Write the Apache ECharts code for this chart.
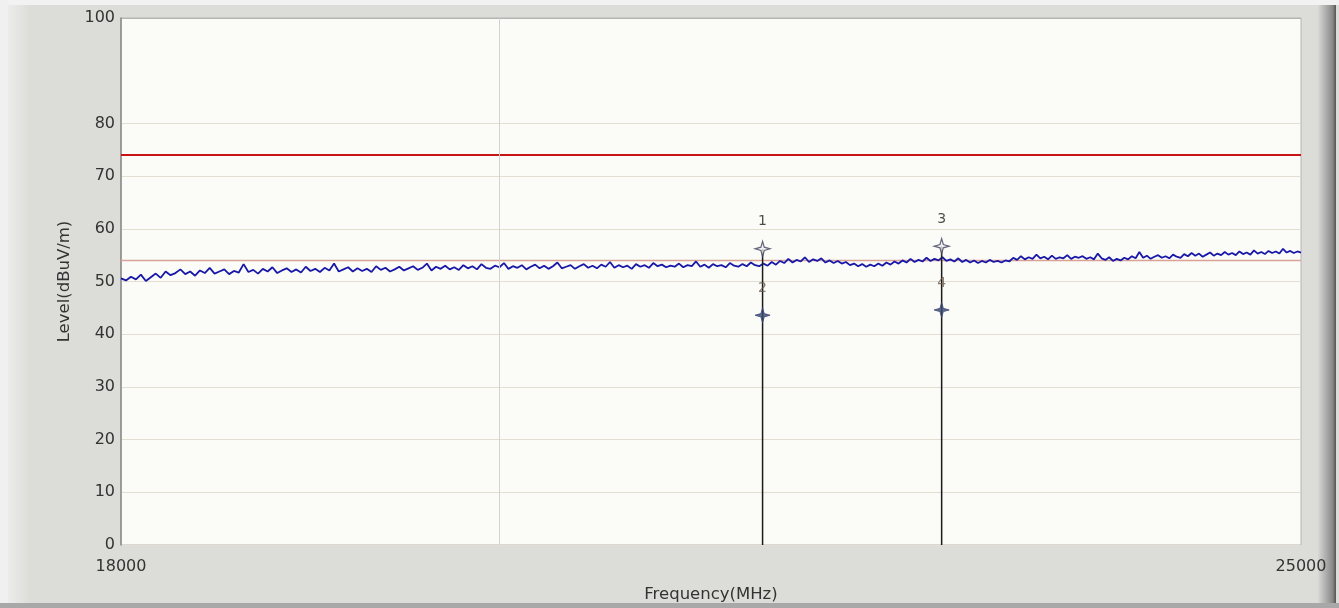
<!DOCTYPE html>
<html><head><meta charset="utf-8">
<script src="https://cdn.jsdelivr.net/npm/echarts@6/dist/echarts.min.js"></script>
<style>html,body{margin:0;padding:0;background:#dcdcd8}#c{width:1339px;height:608px}</style>
</head><body><div id="c"></div>
<script>
// Sweep definition
const freqStart = 18000;
const freqStop = 25000;
const freqStep = 25;
// Measured trace levels (dBuV/m), one per sweep point
const levels = [
50.6,50.2,50.9,50.4,51.3,50.1,50.8,51.5,50.7,51.9,51.2,51.6,52.3,51.4,51.9,51.1,52.1,51.6,52.6,51.5,51.9,
52.3,51.4,52.0,51.7,53.3,51.8,52.2,51.5,52.4,51.9,52.7,51.6,52.1,52.5,51.8,52.3,51.7,52.8,52.0,52.4,
51.8,52.6,52.1,53.4,51.9,52.3,52.7,51.9,52.5,52.0,52.4,51.8,52.9,52.2,52.6,51.9,52.3,52.8,52.1,52.5,
52.9,52.2,52.6,53.4,52.1,52.8,52.4,53.0,52.3,52.7,52.2,53.1,52.5,52.9,52.3,53.3,52.6,52.4,53.0,52.7,
53.5,52.4,52.9,52.6,53.1,52.3,52.8,53.2,52.5,53.0,52.4,52.9,53.6,52.5,52.8,53.1,52.4,52.9,53.3,52.6,
53.0,52.5,53.2,52.8,53.7,52.6,53.1,52.7,53.0,52.4,53.3,52.8,53.1,52.6,53.5,52.9,53.2,52.7,53.0,52.8,
53.4,52.7,53.1,52.9,53.8,52.8,53.2,52.6,53.3,52.9,53.1,52.7,53.5,53.0,52.8,53.3,52.9,53.6,53.1,52.9,
53.4,53.0,53.7,53.2,53.9,53.5,54.3,53.6,54.1,53.8,54.6,53.7,54.2,53.9,54.4,53.6,54.0,53.5,53.9,53.4,
53.7,53.1,53.4,52.9,53.3,52.8,53.2,52.9,53.4,53.0,53.6,53.2,53.8,53.4,54.0,53.6,54.3,53.7,54.1,53.8,
54.5,53.9,54.3,54.0,54.6,53.9,54.2,53.8,54.4,53.7,54.1,53.6,54.0,53.5,53.9,53.6,54.1,53.7,53.9,53.6,
54.0,53.8,54.5,54.1,54.8,54.2,54.6,54.3,55.1,54.4,54.7,54.2,54.9,54.3,54.6,54.4,55.0,54.3,54.7,54.5,
54.8,54.3,54.6,54.2,55.3,54.4,54.1,54.6,53.9,54.3,54.0,54.5,54.2,54.8,54.4,55.6,54.5,54.9,54.3,54.7,
55.0,54.5,54.8,54.4,55.1,54.7,54.5,55.2,54.8,55.4,54.9,55.3,54.7,55.1,55.5,54.9,55.3,55.0,55.6,55.1,
55.4,55.0,55.7,55.2,55.5,55.1,55.9,55.3,55.6,55.2,55.8,55.4,55.7,55.3,56.2,55.5,55.8,55.4,55.7,55.5
];
const limitPeak = 74;
const limitAvg = 54;
const markerNames = ['1', '2', '3', '4'];
const markerFreqs = [21520, 21520, 22620, 22620];
const markerLevels = [56.2, 43.6, 56.7, 44.6];
const yHiddenTick = 90;
const xTickLabels = [18000, 25000];
const xGridFreqs = [20000];

const font = 'DejaVu Sans';
const trace = levels.map((v, i) => [freqStart + freqStep * i, v]);
const starPath = 'path://M0,-9 L2,-2 L9,0 L2,2 L0,9 L-2,2 L-9,0 L-2,-2 Z';

const markerSeries = markerNames.map((n, i) => ({
  type: 'scatter',
  data: [[markerFreqs[i], markerLevels[i], n]],
  symbol: starPath,
  symbolSize: [15, 15],
  itemStyle: i % 2 === 0
    ? { color: '#f4f4f8', borderColor: '#404058', borderWidth: 1.2 }
    : { color: '#3a4670', borderColor: '#3a4670', borderWidth: 1 },
  label: {
    show: true, position: 'top', distance: 12,
    formatter: p => p.data[2],
    color: i % 2 === 0 ? '#222' : '#6a5a4a',
    fontFamily: font, fontSize: 14
  },
  z: 5, silent: true
}));

const stemFreqs = [];
markerFreqs.forEach(f => { if (!stemFreqs.includes(f)) stemFreqs.push(f); });
const stemSeries = stemFreqs.map(f => {
  const top = Math.max(...markerLevels.filter((l, i) => markerFreqs[i] === f));
  return {
    type: 'line', data: [[f, 0], [f, top]], symbol: 'none',
    lineStyle: { color: '#1a1a1a', width: 1.5 }, z: 4, silent: true
  };
});

const chart = echarts.init(document.getElementById('c'), null, { renderer: 'canvas' });
chart.setOption({
  backgroundColor: '#dcdcd8',
  animation: false,
  graphic: [
    { type: 'rect', shape: { x: 0, y: 0, width: 1339, height: 5 }, style: { fill: '#f2f2f2' }, z: -10 },
    { type: 'rect', shape: { x: 0, y: 0, width: 8, height: 608 }, style: { fill: '#f0f0f0' }, z: -10 },
    { type: 'rect', shape: { x: 8, y: 5, width: 22, height: 598 },
      style: { fill: new echarts.graphic.LinearGradient(0, 0, 1, 0, [{ offset: 0, color: '#ececec' }, { offset: 1, color: '#dcdcd8' }]) }, z: -10 },
    { type: 'rect', shape: { x: 1318, y: 5, width: 18, height: 603 },
      style: { fill: new echarts.graphic.LinearGradient(0, 0, 1, 0, [{ offset: 0, color: '#d8d8d6' }, { offset: 0.8, color: '#8a8a8a' }, { offset: 1, color: '#555' }]) }, z: -10 },
    { type: 'rect', shape: { x: 0, y: 603, width: 1339, height: 5 }, style: { fill: '#a8a8a8' }, z: -10 }
  ],
  grid: {
    left: 121, right: 38, top: 18, bottom: 63,
    show: true, backgroundColor: '#fbfbf8', borderColor: '#b4b4b4', borderWidth: 1
  },
  xAxis: {
    type: 'log', logBase: 10, min: freqStart, max: freqStop,
    name: 'Frequency(MHz)', nameLocation: 'middle', nameGap: 41,
    nameTextStyle: { fontFamily: font, fontSize: 16.5, color: '#333' },
    axisLine: { show: false }, axisTick: { show: false }, splitLine: { show: false },
    axisLabel: {
      showMinLabel: true, showMaxLabel: true, margin: 14,
      fontFamily: font, fontSize: 16, color: '#333',
      formatter: v => xTickLabels.some(t => Math.abs(t - v) < 1) ? String(xTickLabels.find(t => Math.abs(t - v) < 1)) : ''
    }
  },
  yAxis: {
    type: 'value', min: 0, max: 100, interval: 10,
    name: 'Level(dBuV/m)', nameLocation: 'middle', nameGap: 45,
    nameTextStyle: { fontFamily: font, fontSize: 16.5, color: '#333' },
    axisLine: { show: true, lineStyle: { color: '#8a8a8a', width: 1.5 } },
    axisTick: { show: false },
    axisLabel: {
      margin: 6, fontFamily: font, fontSize: 16, color: '#333',
      formatter: v => v === yHiddenTick ? '' : String(v)
    },
    splitLine: {
      show: true,
      lineStyle: { color: ['#e2ded0','#e2ded0','#e2ded0','#e2ded0','#e2ded0','#e2ded0','#e2ded0','#e2ded0','#e2ded0','rgba(0,0,0,0)','#b4b4b4'], width: 1 }
    }
  },
  series: [
    {
      type: 'line', data: [], symbol: 'none', silent: true,
      markLine: {
        symbol: 'none', silent: true, label: { show: false },
        lineStyle: { color: '#d2d2d2', width: 1, type: 'solid' },
        data: xGridFreqs.map(f => ({ xAxis: f }))
      }
    },
    {
      type: 'line', data: [[freqStart, limitPeak], [freqStop, limitPeak]], symbol: 'none',
      lineStyle: { color: '#c81414', width: 2.2 }, z: 3, silent: true
    },
    {
      type: 'line', data: [[freqStart, limitAvg], [freqStop, limitAvg]], symbol: 'none',
      lineStyle: { color: '#d9a394', width: 1.5 }, z: 2, silent: true
    },
    {
      type: 'line', data: trace, symbol: 'none',
      lineStyle: { color: '#1818a8', width: 1.8 }, z: 3, silent: true
    },
    ...stemSeries,
    ...markerSeries
  ]
});
</script></body></html>
